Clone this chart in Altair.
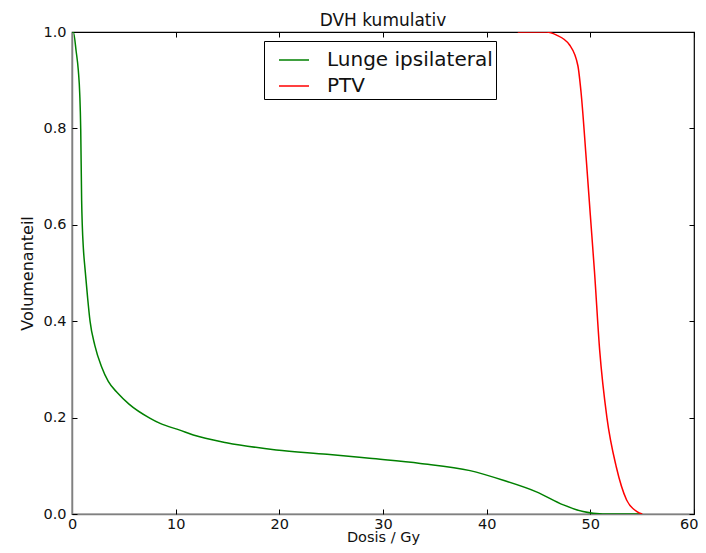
import altair as alt
import pandas as pd

# ---- data ----
lung_dose = [0.0, 0.13, 0.4, 0.61, 0.75, 0.84, 0.93, 0.99, 1.1, 1.25, 1.5, 1.74, 2.2, 2.86, 3.5,
             4.4, 5.5, 7.5, 8.5, 10.4, 11.7, 14.9, 19.7, 24.6, 28.7, 33.6, 38.4, 41.6, 44.8,
             47.4, 49.3, 51.2, 55.0]
lung_vol = [1.0, 1.0, 0.96, 0.92, 0.87, 0.80, 0.65, 0.60, 0.55, 0.51, 0.45, 0.40, 0.35, 0.305, 0.275,
            0.251, 0.228, 0.199, 0.188, 0.174, 0.164, 0.148, 0.133, 0.124, 0.1155, 0.105, 0.09, 0.07, 0.046,
            0.019, 0.005, 0.0, 0.0]
ptv_dose = [43.0, 45.8, 46.7, 48.0, 48.8, 49.1, 49.6, 50.0, 50.4, 50.9, 51.6, 52.5, 53.5, 54.5, 55.0]
ptv_vol = [1.0, 1.0, 0.994, 0.973, 0.93, 0.876, 0.738, 0.62, 0.503, 0.34, 0.2, 0.098, 0.029, 0.005, 0.0]

series_names = ["Lunge ipsilateral", "PTV"]
series_colors = ["#008000", "#ff0000"]
x_ticks = [0, 10, 20, 30, 40, 50, 60]
y_ticks = [0.0, 0.2, 0.4, 0.6, 0.8, 1.0]

df = pd.concat([
    pd.DataFrame({"dose": lung_dose, "vol": lung_vol, "series": series_names[0]}),
    pd.DataFrame({"dose": ptv_dose, "vol": ptv_vol, "series": series_names[1]}),
], ignore_index=True)

FONT = "DejaVu Sans"
W, H = 622, 482
xs = alt.Scale(domain=[0, 60], nice=False, zero=False)
ys = alt.Scale(domain=[0, 1], nice=False)

base = alt.Chart(df)

lines = base.mark_line(strokeWidth=1.5, interpolate="monotone", clip=True).encode(
    x=alt.X("dose:Q", scale=xs,
            axis=alt.Axis(values=x_ticks, title="Dosis / Gy", ticks=False, grid=False,
                          domainColor="#808080", domainWidth=1.5, labelFontSize=14.5, labelPadding=3,
                          labelColor="#111111", titleFontSize=14.5, titleFontWeight="normal",
                          titleColor="#111111", titleY=27, titleBaseline="alphabetic",
                          labelFlush=False,
                          labelAlign=alt.expr("datum.value == 60 ? 'right' : 'center'"),
                          labelOffset=alt.expr("datum.value == 60 ? 4 : 0"))),
    y=alt.Y("vol:Q", scale=ys,
            axis=alt.Axis(values=y_ticks, format=".1f", title="Volumenanteil", ticks=False, grid=False,
                          domainColor="#808080", domainWidth=1.5, labelFontSize=14.5, labelPadding=6,
                          labelColor="#111111", titleFontSize=16, titleFontWeight="normal",
                          titlePadding=7, titleColor="#111111", labelFlush=False)),
    color=alt.Color("series:N", scale=alt.Scale(domain=series_names, range=series_colors),
                    legend=alt.Legend(title=None, orient="none", legendX=192, legendY=9,
                                      symbolType="stroke", symbolSize=900, symbolStrokeWidth=1.5,
                                      symbolOffset=11,
                                      labelFontSize=20, labelFont=FONT, labelColor="#111111",
                                      labelOffset=17, rowPadding=0, padding=3,
                                      labelExpr="datum.label + '\u2002'",
                                      strokeColor="black", fillColor="white",
                                      labelLimit=400)),
)

def tick_layer(orient, chan):
    ax = alt.Axis(orient=orient, offset=-5, tickSize=5, labels=False, domain=False, title=None,
                  grid=False, tickColor="black", tickWidth=1,
                  values=x_ticks if chan == "x" else y_ticks)
    if chan == "x":
        enc = dict(x=alt.X("dose:Q", scale=xs, axis=ax), y=alt.Y("vol:Q", scale=ys, axis=None))
    else:
        enc = dict(x=alt.X("dose:Q", scale=xs, axis=None), y=alt.Y("vol:Q", scale=ys, axis=ax))
    return base.mark_line(opacity=0).encode(**enc)

chart = alt.layer(
    lines,
    tick_layer("bottom", "x"),
    tick_layer("top", "x"),
    tick_layer("left", "y"),
    tick_layer("right", "y"),
).resolve_axis(x="independent", y="independent").properties(
    width=W, height=H,
    title=alt.Title("DVH kumulativ", fontSize=17, fontWeight="normal", font=FONT, color="#111111",
                    offset=-6, anchor="middle"),
    autosize=alt.AutoSizeParams(type="none"),
    padding={"left": 64, "top": 24, "right": 4, "bottom": 31},
).configure(font=FONT).configure_view(stroke="black", strokeWidth=1.2)

chart.save("out.html", embed_options={"renderer": "svg", "actions": False})
